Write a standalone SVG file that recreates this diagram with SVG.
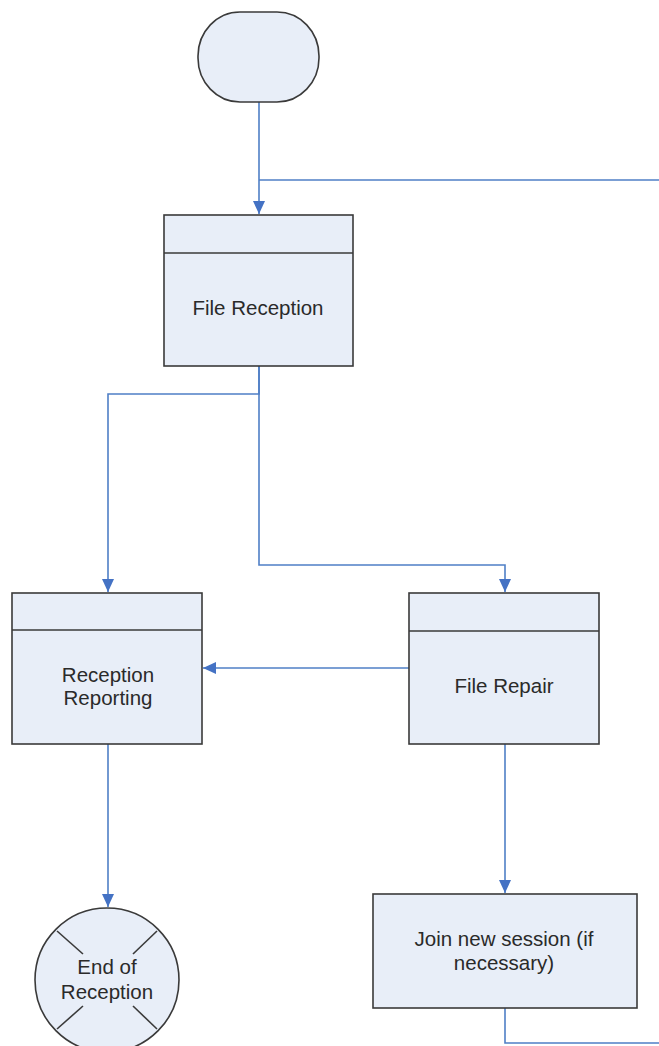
<svg xmlns="http://www.w3.org/2000/svg" width="659" height="1046" viewBox="0 0 659 1046">
<style>
.shape{fill:#e8eef8;stroke:#3a3a3a;stroke-width:1.6}
.div{stroke:#3a3a3a;stroke-width:1.6;fill:none}
.conn{fill:none;stroke:#4f7fc6;stroke-width:1.6}
.lbl{font-family:"Liberation Sans",Arial,sans-serif;font-size:20.5px;fill:#2a2a2a;text-anchor:middle}
</style>
<defs>
<marker id="arr" viewBox="0 0 13 12" refX="13" refY="6" markerWidth="13" markerHeight="12" markerUnits="userSpaceOnUse" orient="auto">
<path d="M0,0 L13,6 L0,12 z" fill="#4472c4"/>
</marker>
</defs>
<rect width="659" height="1046" fill="#ffffff"/>
<g id="connectors">
<path class="conn" d="M259,102 V214" marker-end="url(#arr)"/>
<path class="conn" d="M259,180 H659"/>
<path class="conn" d="M259,366 V394 H108 V592" marker-end="url(#arr)"/>
<path class="conn" d="M259,366 V565 H505 V592" marker-end="url(#arr)"/>
<path class="conn" d="M409,668 H203" marker-end="url(#arr)"/>
<path class="conn" d="M108,744 V907" marker-end="url(#arr)"/>
<path class="conn" d="M505,744 V893" marker-end="url(#arr)"/>
<path class="conn" d="M505,1008 V1043 H659"/>
</g>
<g id="start">
<rect class="shape" x="198" y="12" width="121" height="90" rx="42" ry="44"/>
</g>
<g id="file-reception">
<rect class="shape" x="164" y="215" width="189" height="151"/>
<line class="div" x1="164" y1="253" x2="353" y2="253"/>
<text class="lbl" x="258" y="315">File Reception</text>
</g>
<g id="reception-reporting">
<rect class="shape" x="12" y="593" width="190" height="151"/>
<line class="div" x1="12" y1="630" x2="202" y2="630"/>
<text class="lbl" x="108" y="682">Reception</text>
<text class="lbl" x="108" y="705">Reporting</text>
</g>
<g id="file-repair">
<rect class="shape" x="409" y="593" width="190" height="151"/>
<line class="div" x1="409" y1="631" x2="599" y2="631"/>
<text class="lbl" x="504" y="693">File Repair</text>
</g>
<g id="end-of-reception">
<circle class="shape" cx="107" cy="980" r="72"/>
<line class="div" x1="57" y1="931" x2="83" y2="954"/>
<line class="div" x1="157" y1="931" x2="133" y2="954"/>
<line class="div" x1="83" y1="1006" x2="57" y2="1029"/>
<line class="div" x1="133" y1="1006" x2="157" y2="1029"/>
<text class="lbl" x="107" y="974">End of</text>
<text class="lbl" x="107" y="999">Reception</text>
</g>
<g id="join-new-session">
<rect class="shape" x="373" y="894" width="264" height="114"/>
<text class="lbl" x="504" y="946">Join new session (if</text>
<text class="lbl" x="504" y="970">necessary)</text>
</g>
</svg>
